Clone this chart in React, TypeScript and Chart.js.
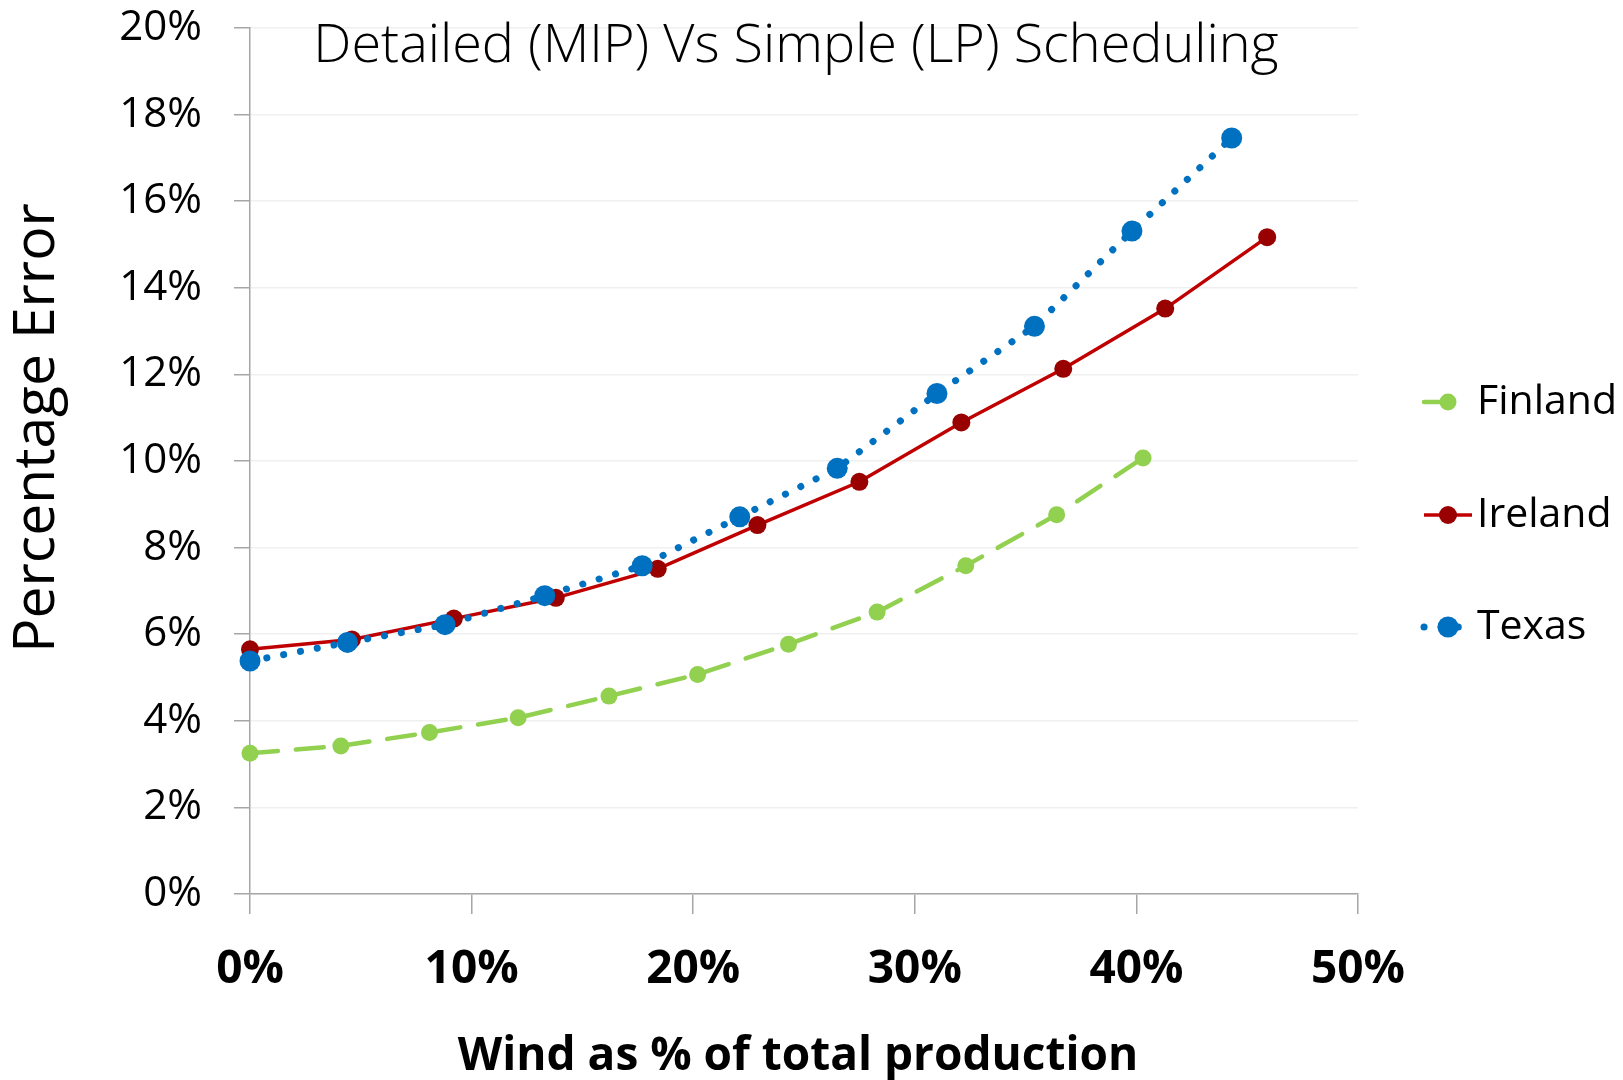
import React, { useEffect, useRef } from "react";
import { Chart, registerables } from "chart.js";

Chart.register(...registerables);

// Wind share (% of total production) and percentage error per system
const finlandX = [0, 4.1, 8.1, 12.1, 16.2, 20.2, 24.3, 28.3, 32.3, 36.4, 40.3];
const finlandY = [3.25, 3.42, 3.73, 4.07, 4.57, 5.07, 5.77, 6.51, 7.58, 8.76, 10.07];

const irelandX = [0, 4.6, 9.2, 13.8, 18.4, 22.9, 27.5, 32.1, 36.7, 41.3, 45.9];
const irelandY = [5.65, 5.88, 6.36, 6.84, 7.51, 8.52, 9.52, 10.89, 12.13, 13.52, 15.17];

const texasX = [0, 4.4, 8.8, 13.3, 17.7, 22.1, 26.5, 31.0, 35.4, 39.8, 44.3];
const texasY = [5.38, 5.81, 6.22, 6.89, 7.58, 8.71, 9.83, 11.56, 13.11, 15.31, 17.46];

const seriesNames = ["Finland", "Ireland", "Texas"];

const chartTitle = "Detailed (MIP) Vs Simple (LP) Scheduling";
const yAxisTitle = "Percentage Error";
const xAxisTitle = "Wind as % of total production";

const FONT = "'Open Sans', 'Noto Sans', sans-serif";

const toPoints = (xs: number[], ys: number[]) => xs.map((x, i) => ({ x, y: ys[i] }));

// Draws the chart title, axis titles and a line-sample legend on the right
const annotations = {
  id: "annotations",
  afterDraw(chart: any) {
    const { ctx, chartArea } = chart;
    const { left, right, top, bottom } = chartArea;
    const cx = (left + right) / 2;
    ctx.save();
    ctx.fillStyle = "#000";

    ctx.font = `300 54px ${FONT}`;
    ctx.textAlign = "center";
    ctx.textBaseline = "alphabetic";
    ctx.fillText(chartTitle, cx - 8, top + 34);

    ctx.font = `bold 46px ${FONT}`;
    ctx.fillText(xAxisTitle, cx - 6, bottom + 176);

    ctx.save();
    ctx.translate(left - 196, (top + bottom) / 2 - 33);
    ctx.rotate(-Math.PI / 2);
    ctx.font = `400 57px ${FONT}`;
    ctx.fillText(yAxisTitle, 0, 0);
    ctx.restore();

    // legend
    const legendRows = [402, 515, 627];
    chart.data.datasets.forEach((ds: any, i: number) => {
      const y = legendRows[i];
      const x0 = right + 66;
      const xm = x0 + 24;
      const dash: number[] = ds.borderDash || [];
      const longDash = dash.length > 0 && dash[0] > 5;
      const x1 = longDash ? x0 + 26 : x0 + 48;
      ctx.save();
      ctx.strokeStyle = ds.borderColor;
      ctx.lineWidth = ds.borderWidth;
      ctx.lineCap = ds.borderCapStyle || "butt";
      ctx.setLineDash(longDash ? [] : dash);
      ctx.beginPath();
      ctx.moveTo(x0, y);
      ctx.lineTo(x1, y);
      ctx.stroke();
      ctx.setLineDash([]);
      ctx.fillStyle = ds.pointBackgroundColor;
      ctx.beginPath();
      ctx.arc(xm, y, ds.pointRadius, 0, Math.PI * 2);
      ctx.fill();
      ctx.restore();

      ctx.font = `400 41px ${FONT}`;
      ctx.textAlign = "left";
      ctx.textBaseline = "middle";
      ctx.fillStyle = "#000";
      ctx.fillText(seriesNames[i], x0 + 53, y);
    });
    ctx.restore();
  },
};

export default function App() {
  const canvasRef = useRef<HTMLCanvasElement | null>(null);

  useEffect(() => {
    if (!canvasRef.current) return;
    const chart = new Chart(canvasRef.current, {
      type: "line",
      data: {
        datasets: [
          {
            label: seriesNames[0],
            data: toPoints(finlandX, finlandY),
            borderColor: "#92D050",
            borderWidth: 4.5,
            borderDash: [28, 18],
            borderCapStyle: "round",
            pointBackgroundColor: "#92D050",
            pointBorderWidth: 0,
            pointRadius: 8.5,
            tension: 0,
            clip: false,
            order: 2,
          },
          {
            label: seriesNames[1],
            data: toPoints(irelandX, irelandY),
            borderColor: "#C00000",
            borderWidth: 3.5,
            pointBackgroundColor: "#990000",
            pointBorderWidth: 0,
            pointRadius: 9,
            tension: 0,
            clip: false,
            order: 1,
          },
          {
            label: seriesNames[2],
            data: toPoints(texasX, texasY),
            borderColor: "#0070C0",
            borderWidth: 7,
            borderDash: [0.1, 17],
            borderCapStyle: "round",
            pointBackgroundColor: "#0070C0",
            pointBorderWidth: 0,
            pointRadius: 10.5,
            tension: 0,
            clip: false,
            order: 0,
          },
        ] as any,
      },
      options: {
        animation: false,
        responsive: true,
        maintainAspectRatio: false,
        layout: { autoPadding: false, padding: { left: 0, right: 265, top: 28, bottom: 0 } },
        plugins: {
          legend: { display: false },
          title: { display: false },
          tooltip: { enabled: false },
        },
        scales: {
          x: {
            type: "linear",
            min: 0,
            max: 50,
            ticks: {
              stepSize: 10,
              color: "#000",
              padding: 28,
              font: { family: FONT, size: 46, weight: "bold" },
              callback: (v: any) => `${v}%`,
            },
            grid: {
              drawOnChartArea: false,
              color: "#A6A6A6",
              tickColor: "#A6A6A6",
              tickLength: 20,
              lineWidth: 1.5,
            },
            border: { color: "#A6A6A6", width: 1.5 },
            afterFit: (scale: any) => {
              scale.height = 186;
              scale.paddingLeft = 0;
              scale.paddingRight = 0;
            },
          },
          y: {
            type: "linear",
            min: 0,
            max: 20,
            ticks: {
              stepSize: 2,
              color: "#000",
              padding: 32,
              font: { family: FONT, size: 42 },
              callback: (v: any) => `${v}%`,
            },
            grid: {
              color: "#F0F0F0",
              tickColor: "#A6A6A6",
              tickLength: 16,
              lineWidth: 1.5,
            },
            border: { color: "#A6A6A6", width: 1.5 },
            afterFit: (scale: any) => {
              scale.width = 250;
              scale.paddingTop = 0;
              scale.paddingBottom = 0;
            },
          },
        },
      } as any,
      plugins: [annotations],
    });
    return () => chart.destroy();
  }, []);

  return (
    <div style={{ position: "fixed", inset: 0, background: "#fff" }}>
      <canvas ref={canvasRef} />
    </div>
  );
}
